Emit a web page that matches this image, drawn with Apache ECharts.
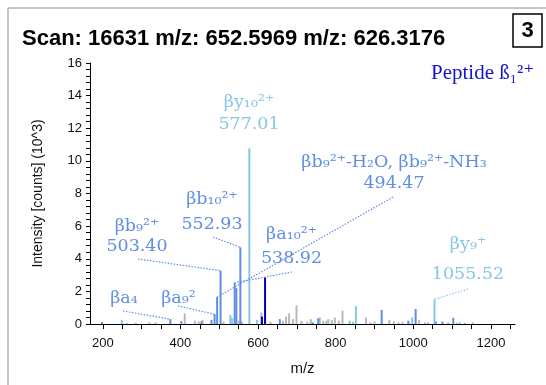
<!DOCTYPE html>
<html><head><meta charset="utf-8">
<script src="https://cdn.jsdelivr.net/npm/echarts@6/dist/echarts.min.js"></script>
<style>html,body{margin:0;padding:0;background:#fff}#c{width:546px;height:385px}</style>
</head><body><div id="c"></div>
<script>
// ---- data ----
const xLabelValues = [200, 400, 600, 800, 1000, 1200];
const xTickValues = [200,250,300,350,400,450,500,550,600,650,700,750,800,850,900,950,1000,1050,1100,1150,1200,1250];
const yLabelValues = [0, 2, 4, 6, 8, 10, 12, 14, 16];
const yTickValues = [0,0.4,0.8,1.2,1.6,2,2.4,2.8,3.2,3.6,4,4.4,4.8,5.2,5.6,6,6.4,6.8,7.2,7.6,8,8.4,8.8,9.2,9.6,10,10.4,10.8,11.2,11.6,12,12.4,12.8,13.2,13.6,14,14.4,14.8,15.2,15.6,16];
const lightPeaks = [[249,0.25],[336,0.1],[528.6,0.55],[533,0.35],[577.5,10.77],[597,0.25],[757,0.2],[776,0.2],[836,0.2],[852,1.1],[997,0.4],[1038,0.1],[1054.5,1.51],[1120,0.1],[1133,0.08],[1153,0.1]];
const bluePeaks = [[198,0.12],[374,0.3],[402,0.17],[454,0.15],[480,0.25],[488,0.6],[494.5,1.65],[503.4,3.27],[539.7,2.53],[544,2.2],[554.4,4.7],[656,0.3],[741,0.1],[755,0.35],[918.5,0.86],[987,0.2],[1006,0.92],[1058,0.15],[1075,0.15],[1103,0.38]];
const darkPeaks = [[610,0.45],[618,2.86]];
const grayPeaks = [[262,0.06],[285,0.08],[320,0.1],[411,0.65],[437,0.2],[447,0.15],[457,0.25],[511,0.15],[550,0.2],[559,0.15],[608.5,0.7],[632,0.15],[664,0.2],[672,0.45],[680,0.65],[690,0.3],[699,1.15],[712,0.2],[727,0.15],[736,0.3],[759,0.4],[768,0.2],[781,0.3],[790,0.25],[798,0.4],[808,0.2],[817.5,0.82],[845,0.15],[878,0.4],[890,0.1],[900,0.15],[938,0.25],[950,0.15],[962,0.1],[972,0.15],[1015,0.25],[1030,0.1],[1090,0.1],[1112,0.08]];

// annotation texts and the peak each one points at
const annotLines = [
  ['βy₁₀²⁺', '577.01'],
  ['βb₉²⁺-H₂O, βb₉²⁺-NH₃', '494.47'],
  ['βb₁₀²⁺', '552.93'],
  ['βa₁₀²⁺', '538.92'],
  ['βb₉²⁺', '503.40'],
  ['βa₄'],
  ['βa₉²'],
  ['βy₉⁺', '1055.52']
];
const annotPeaks = [null, [494.5,1.65], [554.4,4.7], [539.7,2.53], [503.4,3.27], [374,0.3], [488,0.6], [1054.5,1.51]];
const titleText = 'Scan: 16631 m/z: 652.5969 m/z: 626.3176';
const panelNumber = '3';
const peptideText = 'Peptide ß₁²⁺';

// ---- layout/styles ----
const LIGHT = '#86c6e8', BLUE = '#5f8ee4', DARK = '#0000c8', GRAY = '#b9b9b9';
const annotColors = [LIGHT, BLUE, BLUE, BLUE, BLUE, BLUE, BLUE, LIGHT];
// [centerX, baseline line1, baseline line2, leaderStartX, leaderStartY]
const annotLayout = [
  [249, 108, 130, null, null],
  [394, 168, 189, 393, 197],
  [212, 205, 230, 213, 237],
  [291.5, 240, 264, 292, 272],
  [137, 232, 252, 138, 259],
  [124, 304, null, 123, 311],
  [178.5, 304, null, 178, 306],
  [468, 250, 280, 468, 289]
];

const chart = echarts.init(document.getElementById('c'), null, {renderer: 'canvas', width: 546, height: 385});
const axisFont = 'Liberation Sans, Arial, sans-serif';
function barSeries(data, color, z) {
  return {type: 'bar', data: data, barWidth: 2, barGap: '-100%', itemStyle: {color: color}, z: z, silent: true};
}
chart.setOption({
  animation: false,
  grid: {left: 90, right: 31, top: 63, bottom: 61},
  xAxis: {
    type: 'value', min: 167, max: 1262,
    name: 'm/z', nameLocation: 'middle', nameGap: 37,
    nameTextStyle: {fontSize: 15, color: '#111', fontFamily: axisFont},
    axisLine: {show: true, lineStyle: {color: '#000', width: 1}},
    axisTick: {show: true, length: 5, lineStyle: {color: '#000'}, customValues: xTickValues},
    axisLabel: {customValues: xLabelValues, fontSize: 13, color: '#111', fontFamily: axisFont, margin: 13,
      formatter: function (v) { return String(v); }},
    splitLine: {show: false}
  },
  yAxis: {
    type: 'value', min: 0, max: 16,
    name: 'Intensity [counts] (10^3)', nameLocation: 'middle', nameGap: 45,
    nameTextStyle: {fontSize: 14, color: '#111', fontFamily: axisFont},
    axisLine: {show: true, lineStyle: {color: '#000', width: 1}},
    axisTick: {show: true, length: 4, lineStyle: {color: '#000'}, customValues: yTickValues},
    axisLabel: {customValues: yLabelValues, fontSize: 13, color: '#111', fontFamily: axisFont, margin: 8},
    splitLine: {show: false}
  },
  series: [
    barSeries(grayPeaks, GRAY, 1),
    barSeries(lightPeaks, LIGHT, 2),
    barSeries(bluePeaks, BLUE, 3),
    barSeries(darkPeaks, DARK, 4)
  ]
});

const serif = 'DejaVu Serif, serif';
const g = [];
// frame lines
g.push({type: 'line', shape: {x1: 8, y1: 8, x2: 546, y2: 8}, style: {stroke: '#b3b3b3', lineWidth: 1.5}, silent: true});
g.push({type: 'line', shape: {x1: 8, y1: 8, x2: 8, y2: 385}, style: {stroke: '#b3b3b3', lineWidth: 1.5}, silent: true});
// title
g.push({type: 'text', x: 22, y: 39, style: {text: titleText, font: 'bold 22px Liberation Sans, Arial, sans-serif', fill: '#000', verticalAlign: 'middle', align: 'left'}});
// panel number box
g.push({type: 'rect', shape: {x: 513, y: 14, width: 29, height: 33}, style: {stroke: '#000', lineWidth: 1.5, fill: '#fff'}});
g.push({type: 'text', x: 527.5, y: 31, style: {text: panelNumber, font: 'bold 22px Liberation Sans, Arial, sans-serif', fill: '#000', align: 'center', verticalAlign: 'middle'}});
// peptide label
g.push({type: 'text', x: 431, y: 73, style: {text: peptideText, font: '21px Liberation Serif, DejaVu Serif, serif', fill: '#1414c8', align: 'left', verticalAlign: 'middle'}});

annotLines.forEach(function (lines, i) {
  const L = annotLayout[i];
  const col = annotColors[i];
  g.push({type: 'text', x: L[0], y: L[1] - 6, style: {text: lines[0], font: '17.5px ' + serif, fill: col, align: 'center', verticalAlign: 'middle'}});
  if (lines[1]) {
    g.push({type: 'text', x: L[0], y: L[2] - 6, style: {text: lines[1], font: '17.5px ' + serif, fill: col, align: 'center', verticalAlign: 'middle'}});
  }
  if (annotPeaks[i]) {
    const p = chart.convertToPixel({gridIndex: 0}, annotPeaks[i]);
    g.push({type: 'line', shape: {x1: L[3], y1: L[4], x2: p[0], y2: p[1]}, style: {stroke: col, lineWidth: 1.2, lineDash: [1.5, 1.5]}, silent: true, z: 10});
  }
});
chart.setOption({graphic: g});
</script>
</body></html>
